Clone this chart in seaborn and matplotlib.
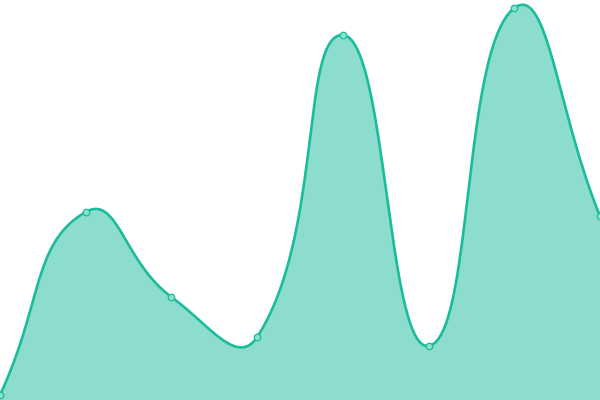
import matplotlib
matplotlib.use("Agg")
import matplotlib.pyplot as plt
import seaborn as sns
import numpy as np
import pandas as pd

# Data (8 evenly spaced points, y scale 0..400)
positions = [0, 1, 2, 3, 4, 5, 6, 7]
values = [5, 188, 103, 63, 365, 54, 392, 184]

LINE = "#1abc9c"
X_SCALE = 600 / 7  # pixels per category step


def smooth_curve(xs, ys, smooth=0.5, steps=40):
    # bezier smoothing like a charting lib's "smooth: true" line
    px = np.array(xs, dtype=float) * X_SCALE
    py = np.array(ys, dtype=float)
    n = len(px)
    cps = []
    for i in range(n):
        prev = max(i - 1, 0)
        nxt = min(i + 1, n - 1)
        vx = (px[nxt] - px[prev]) * smooth
        vy = (py[nxt] - py[prev]) * smooth
        d0 = np.hypot(px[i] - px[prev], py[i] - py[prev])
        d1 = np.hypot(px[nxt] - px[i], py[nxt] - py[i])
        s = d0 + d1
        if s == 0:
            cps.append(((px[i], py[i]), (px[i], py[i])))
            continue
        c0 = (px[i] - vx * d0 / s, py[i] - vy * d0 / s)
        c1 = (px[i] + vx * d1 / s, py[i] + vy * d1 / s)
        cps.append((c0, c1))
    out_x, out_y = [px[0]], [py[0]]
    t = np.linspace(0, 1, steps)[1:]
    for i in range(n - 1):
        p0 = np.array([px[i], py[i]])
        p1 = np.array(cps[i][1])
        p2 = np.array(cps[i + 1][0])
        p3 = np.array([px[i + 1], py[i + 1]])
        for tt in t:
            pt = ((1 - tt) ** 3) * p0 + 3 * ((1 - tt) ** 2) * tt * p1 \
                + 3 * (1 - tt) * tt ** 2 * p2 + tt ** 3 * p3
            out_x.append(pt[0])
            out_y.append(pt[1])
    return np.array(out_x) / X_SCALE, np.array(out_y)


sns.set_style("white")

fig = plt.figure(figsize=(6, 4), dpi=100)
ax = fig.add_axes([0, 0, 1, 1])

cx, cy = smooth_curve(positions, values)
curve = pd.DataFrame({"x": cx, "y": cy})

ax.fill_between(cx, cy, 0, color=LINE, alpha=0.5, linewidth=0)
sns.lineplot(data=curve, x="x", y="y", sort=False, estimator=None,
             color=LINE, linewidth=1.9, ax=ax)

points = pd.DataFrame({"x": positions, "y": values})
sns.scatterplot(data=points, x="x", y="y", s=22, color="#8ae1cf",
                edgecolor=LINE, linewidth=0.9, zorder=5, ax=ax)

ax.set_xlim(0, 7)
ax.set_ylim(0, 400)
ax.axis("off")

fig.savefig("out.png", dpi=100)
